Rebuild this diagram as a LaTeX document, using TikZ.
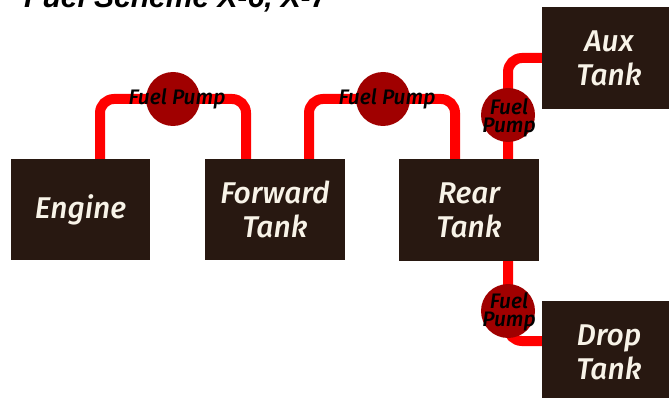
\documentclass[tikz,border=0pt]{standalone}
\usepackage{fontspec}
\setmainfont{Fira Sans}[ItalicFont={Fira Sans Medium Italic}]
\newfontfamily\titlefont{Liberation Sans}
\definecolor{boxfill}{HTML}{281811}
\definecolor{boxtext}{HTML}{F8F3E8}
\definecolor{pumpfill}{HTML}{A00000}
\definecolor{pipecol}{HTML}{FF0000}
\tikzset{
  tank/.style={rectangle, fill=boxfill, text=boxtext, inner sep=0pt,
    minimum width=139pt, minimum height=101pt, align=center,
    font=\itshape\fontsize{30}{34}\selectfont},
  pump/.style={circle, fill=pumpfill, minimum size=54pt, inner sep=0pt},
  pumptext/.style={text=black, align=center, inner sep=0pt,
    font=\itshape\fontsize{21}{18}\selectfont},
  pipe/.style={draw=pipecol, line width=10pt, rounded corners=14pt}
}
\begin{document}
\begin{tikzpicture}[x=1pt,y=-1pt]
\useasboundingbox (0,0) rectangle (669,398);
% title (cut off at top, as in the reference)
\node[anchor=base west, inner sep=0pt, font=\titlefont\bfseries\itshape\fontsize{30}{30}\selectfont] (title) at (24,8) {Fuel Scheme X-6, X-7};
% pump positions
\coordinate (p1) at (173,99);
\coordinate (p2) at (383,99);
\coordinate (p3) at (508,115);
\coordinate (p4) at (508,311);
% tanks (placed first for names)
\node[tank] (engine) at (80.5,209.5) {Engine};
\node[tank, minimum width=140pt] (fwd) at (275,209.5) {Forward\\Tank};
\node[tank, minimum width=140pt] (rear) at (469,210) {Rear\\Tank};
\node[tank, minimum width=134pt, minimum height=102pt] (aux) at (609,58) {Aux\\Tank};
\node[tank, minimum width=134pt, minimum height=102pt] (drop) at (609,352) {Drop\\Tank};
% pipes
\draw[pipe] ([xshift=19.5pt]engine.north) |- (p1) -| ([xshift=-29pt]fwd.north);
\draw[pipe] ([xshift=34pt]fwd.north) |- (p2) -| ([xshift=-14pt]rear.north);
\draw[pipe] ([xshift=39pt]rear.north) -- (p3) |- (aux.west);
\draw[pipe] ([xshift=39pt]rear.south) -- (p4) |- ([yshift=11pt]drop.west);
% redraw tanks above pipe ends
\node[tank] at (engine) {Engine};
\node[tank, minimum width=140pt] at (fwd) {Forward\\Tank};
\node[tank, minimum width=140pt] at (rear) {Rear\\Tank};
\node[tank, minimum width=134pt, minimum height=102pt] at (aux) {Aux\\Tank};
\node[tank, minimum width=134pt, minimum height=102pt] at (drop) {Drop\\Tank};
% pumps
\node[pump] (pump1) at (p1) {};
\node[pump] (pump2) at (p2) {};
\node[pump] (pump3) at (p3) {};
\node[pump] (pump4) at (p4) {};
\node[pumptext] (l1) at ([xshift=4pt]pump1.center) {Fuel Pump};
\node[pumptext] (l2) at ([xshift=4pt]pump2.center) {Fuel Pump};
\node[pumptext] (l3) at ([xshift=1pt,yshift=-3pt]pump3.center) {Fuel\\Pump};
\node[pumptext] (l4) at ([xshift=1pt,yshift=-1pt]pump4.center) {Fuel\\Pump};
\end{tikzpicture}
\end{document}
